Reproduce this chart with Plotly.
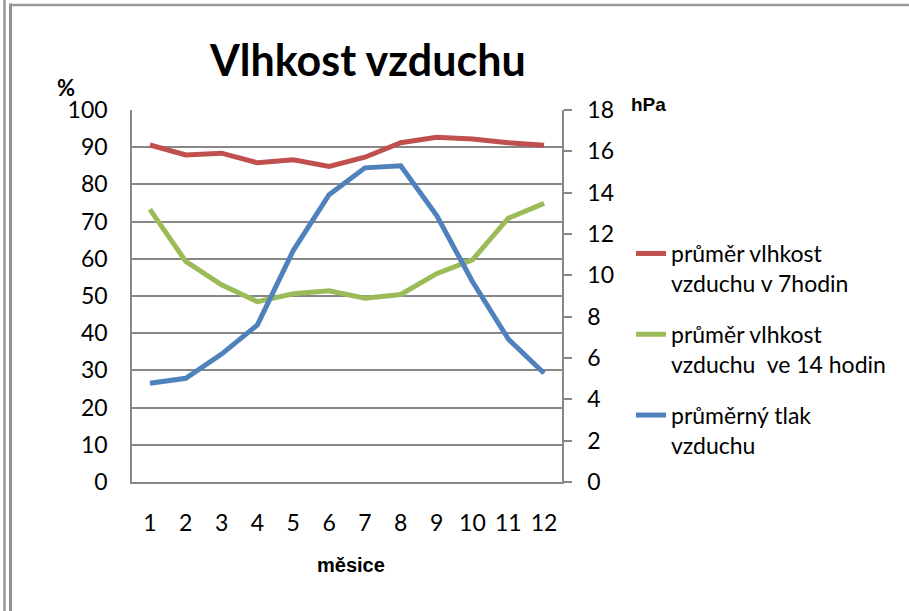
import plotly.graph_objects as go

months = [1, 2, 3, 4, 5, 6, 7, 8, 9, 10, 11, 12]
vlhkost_7 = [90.6, 87.9, 88.4, 85.8, 86.6, 84.8, 87.3, 91.2, 92.7, 92.2, 91.2, 90.5]
vlhkost_14 = [73.3, 59.3, 53.0, 48.5, 50.6, 51.4, 49.4, 50.4, 56.0, 59.7, 70.9, 74.9]
tlak = [4.78, 5.02, 6.19, 7.6, 11.2, 13.9, 15.2, 15.3, 12.9, 9.7, 6.92, 5.26]
names = ["průměr vlhkost<br>vzduchu v 7hodin",
         "průměr vlhkost<br>vzduchu \u00a0ve 14 hodin",
         "průměrný tlak<br>vzduchu"]
left_ticks = list(range(0, 101, 10))
right_ticks = list(range(0, 19, 2))

L, R, T, B = 132, 562, 110, 482
W, H = 909, 611
def px(x):
    return (x - L) / (R - L)
def py(y):
    return (B - y) / (B - T)

GRAY = "#878787"
FONT = "Lato"
FS = 23

fig = go.Figure()
fig.add_trace(go.Scatter(x=months, y=vlhkost_7, name=names[0], mode="lines",
                         line=dict(color="#C0504D", width=5), legendgroup="a"))
fig.add_trace(go.Scatter(x=months, y=vlhkost_14, name=names[1], mode="lines",
                         line=dict(color="#9BBB59", width=5), legendgroup="b"))
fig.add_trace(go.Scatter(x=months, y=tlak, name=names[2], mode="lines", yaxis="y2",
                         line=dict(color="#4F81BD", width=5), legendgroup="c"))

shapes = [
    dict(type="line", xref="paper", yref="paper", x0=px(4.5), x1=px(4.5), y0=py(0), y1=py(W), line=dict(color="#9a9a9a", width=2.5)),
    dict(type="line", xref="paper", yref="paper", x0=px(10.5), x1=px(10.5), y0=py(3.5), y1=py(W), line=dict(color="#8f8f8f", width=3)),
    dict(type="line", xref="paper", yref="paper", x0=px(9), x1=px(909), y0=py(5), y1=py(5), line=dict(color="#9a9a9a", width=2.5)),
]

annotations = [
    dict(text="<b>Vlhkost vzduchu</b>", x=px(367), y=py(60), xref="paper", yref="paper",
         showarrow=False, xanchor="center", yanchor="middle", font=dict(family=FONT, size=43, color="black")),
    dict(text="<b>%</b>", x=px(66), y=py(87), xref="paper", yref="paper",
         showarrow=False, xanchor="center", yanchor="middle", font=dict(family=FONT, size=22, color="black")),
    dict(text="<b>hPa</b>", x=px(629), y=py(104), xref="paper", yref="paper",
         showarrow=False, xanchor="left", yanchor="middle", font=dict(family="Liberation Sans", size=19, color="black")),
    dict(text="<b>měsice</b>", x=px(351), y=py(565), xref="paper", yref="paper",
         showarrow=False, xanchor="center", yanchor="middle", font=dict(family="Liberation Sans", size=20, color="black")),
]

fig.update_layout(
    width=W, height=H, autosize=False,
    margin=dict(l=L, r=W - R, t=T, b=H - B, pad=0),
    paper_bgcolor="white", plot_bgcolor="white",
    font=dict(family=FONT, size=FS, color="black"),
    showlegend=True,
    legend=dict(x=px(631), y=py(232), xanchor="left", yanchor="top",
                font=dict(family=FONT, size=FS, color="black"),
                valign="top", tracegroupgap=18, itemwidth=30,
                bgcolor="rgba(0,0,0,0)"),
    xaxis=dict(range=[0.5, 12.5], tickvals=months, ticktext=[str(m) for m in months],
               showgrid=False, zeroline=False, showline=True, linecolor=GRAY, linewidth=1.5,
               ticks="", ticklabelstandoff=20, tickfont=dict(family=FONT, size=FS)),
    yaxis=dict(range=[0, 100], tickvals=left_ticks, showgrid=True, gridcolor=GRAY, gridwidth=1.5,
               zeroline=False, showline=True, linecolor=GRAY, linewidth=1.5, ticks="",
               ticklabelstandoff=18, tickfont=dict(family=FONT, size=FS)),
    yaxis2=dict(range=[0, 18], tickvals=right_ticks, overlaying="y", side="right",
                showgrid=False, zeroline=False, showline=True, linecolor=GRAY, linewidth=1.5,
                ticks="outside", ticklen=8, tickcolor=GRAY, tickwidth=1.5,
                ticklabelstandoff=11, tickfont=dict(family=FONT, size=FS)),
    shapes=shapes,
    annotations=annotations,
)

fig.write_html("out.html", config={"displayModeBar": False},
               post_script="document.body.style.margin='0';document.body.style.overflow='hidden';")
